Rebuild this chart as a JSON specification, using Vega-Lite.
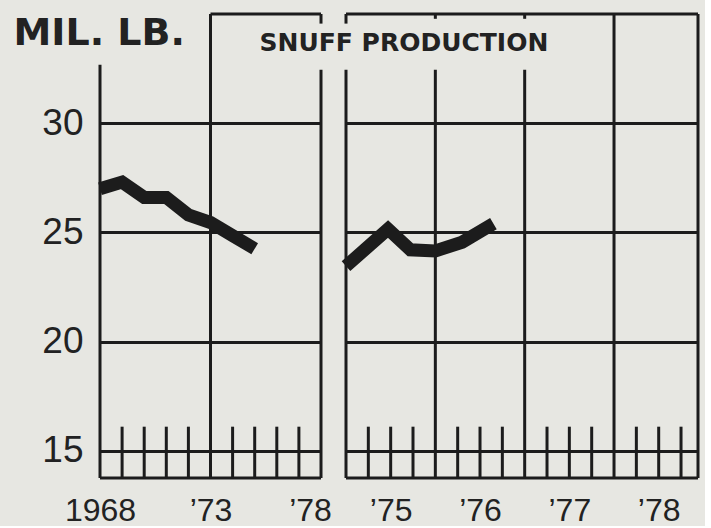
{
  "$schema": "https://vega.github.io/schema/vega-lite/v6.json",
  "background": "#e7e7e2",
  "padding": {"left": 13, "top": 12, "right": 5, "bottom": 0},
  "config": {"view": {"stroke": null}},
  "bounds": "flush",
  "spacing": 25,
  "datasets": {
    "annual": [
      {"year": 1968, "lb": 27.0},
      {"year": 1969, "lb": 27.3},
      {"year": 1970, "lb": 26.6},
      {"year": 1971, "lb": 26.6},
      {"year": 1972, "lb": 25.8},
      {"year": 1973, "lb": 25.45},
      {"year": 1974, "lb": 24.85},
      {"year": 1975, "lb": 24.25}
    ],
    "quarterly": [
      {"year": 1975.0, "lb": 23.45},
      {"year": 1975.47, "lb": 25.15},
      {"year": 1975.72, "lb": 24.2},
      {"year": 1976.0, "lb": 24.15},
      {"year": 1976.3, "lb": 24.55},
      {"year": 1976.65, "lb": 25.4}
    ],
    "frameLeft": [
      {"x": 1968, "x2": 1968, "y": 32.68, "y2": 13.75},
      {"x": 1973, "x2": 1973, "y": 35, "y2": 13.75},
      {"x": 1978, "x2": 1978, "y": 35, "y2": 34.56},
      {"x": 1978, "x2": 1978, "y": 32.45, "y2": 13.75},
      {"x": 1973, "x2": 1978, "y": 35, "y2": 35},
      {"x": 1968, "x2": 1978, "y": 13.75, "y2": 13.75},
      {"x": 1969, "x2": 1969, "y": 16.1, "y2": 13.75},
      {"x": 1970, "x2": 1970, "y": 16.1, "y2": 13.75},
      {"x": 1971, "x2": 1971, "y": 16.1, "y2": 13.75},
      {"x": 1972, "x2": 1972, "y": 16.1, "y2": 13.75},
      {"x": 1974, "x2": 1974, "y": 16.1, "y2": 13.75},
      {"x": 1975, "x2": 1975, "y": 16.1, "y2": 13.75},
      {"x": 1976, "x2": 1976, "y": 16.1, "y2": 13.75},
      {"x": 1977, "x2": 1977, "y": 16.1, "y2": 13.75}
    ],
    "frameRight": [
      {"x": 1975, "x2": 1975, "y": 35, "y2": 34.56},
      {"x": 1975, "x2": 1975, "y": 32.45, "y2": 13.75},
      {"x": 1976, "x2": 1976, "y": 35, "y2": 34.78},
      {"x": 1976, "x2": 1976, "y": 32.45, "y2": 13.75},
      {"x": 1977, "x2": 1977, "y": 35, "y2": 34.78},
      {"x": 1977, "x2": 1977, "y": 32.45, "y2": 13.75},
      {"x": 1978, "x2": 1978, "y": 35, "y2": 13.75},
      {"x": 1978.94, "x2": 1978.94, "y": 35, "y2": 13.75},
      {"x": 1975, "x2": 1978.94, "y": 35, "y2": 35},
      {"x": 1975, "x2": 1978.94, "y": 13.75, "y2": 13.75},
      {"x": 1975.25, "x2": 1975.25, "y": 16.1, "y2": 13.75},
      {"x": 1975.5, "x2": 1975.5, "y": 16.1, "y2": 13.75},
      {"x": 1975.75, "x2": 1975.75, "y": 16.1, "y2": 13.75},
      {"x": 1976.25, "x2": 1976.25, "y": 16.1, "y2": 13.75},
      {"x": 1976.5, "x2": 1976.5, "y": 16.1, "y2": 13.75},
      {"x": 1976.75, "x2": 1976.75, "y": 16.1, "y2": 13.75},
      {"x": 1977.25, "x2": 1977.25, "y": 16.1, "y2": 13.75},
      {"x": 1977.5, "x2": 1977.5, "y": 16.1, "y2": 13.75},
      {"x": 1977.75, "x2": 1977.75, "y": 16.1, "y2": 13.75},
      {"x": 1978.25, "x2": 1978.25, "y": 16.1, "y2": 13.75},
      {"x": 1978.5, "x2": 1978.5, "y": 16.1, "y2": 13.75},
      {"x": 1978.75, "x2": 1978.75, "y": 16.1, "y2": 13.75}
    ]
  },
  "hconcat": [
    {
      "width": 221,
      "height": 464,
      "layer": [
        {
          "data": {"name": "frameLeft"},
          "mark": {"type": "rule", "color": "#1c1c1c", "strokeWidth": 3},
          "encoding": {
            "x": {
              "field": "x", "type": "quantitative",
              "scale": {"domain": [1968, 1978], "nice": false, "zero": false},
              "axis": {
                "values": [1968, 1973, 1978], "format": "d",
                "labelExpr": "datum.value == 1968 ? '1968' : '’' + slice(datum.label, 2)",
                "grid": false, "domain": false, "ticks": false, "tickSize": 0,
                "labelFont": "Liberation Sans", "labelFontSize": 32, "labelColor": "#222222",
                "labelPadding": 42, "labelBaseline": "alphabetic", "labelAngle": 0,
                "labelOverlap": false, "labelFlush": false,
                "labelOffset": {"condition": {"test": "datum.value == 1978", "value": -11}, "value": 0},
                "title": "SNUFF PRODUCTION", "titleFont": "DejaVu Sans", "titleFontSize": 25,
                "titleFontWeight": "bold", "titleColor": "#222222", "titleAlign": "left",
                "titleBaseline": "alphabetic", "titleAngle": 0, "titleX": 159, "titleY": -428
              }
            },
            "x2": {"field": "x2"},
            "y": {
              "field": "y", "type": "quantitative",
              "scale": {"domain": [13.75, 35], "nice": false, "zero": false},
              "axis": {
                "values": [15, 20, 25, 30],
                "grid": true, "gridColor": "#1c1c1c", "gridWidth": 3, "gridOpacity": 1,
                "domain": false, "ticks": false, "tickSize": 0,
                "labelFont": "Liberation Sans", "labelFontSize": 37, "labelColor": "#222222",
                "labelPadding": 17,
                "title": "MIL. LB.", "titleAngle": 0, "titleFont": "DejaVu Sans", "titleFontSize": 38,
                "titleFontWeight": "bold", "titleColor": "#222222", "titleAlign": "left",
                "titleBaseline": "alphabetic", "titleX": -87, "titleY": 30
              }
            },
            "y2": {"field": "y2"}
          }
        },
        {
          "data": {"name": "annual"},
          "mark": {"type": "line", "color": "#1c1c1c", "strokeWidth": 13, "strokeJoin": "miter", "strokeCap": "butt"},
          "encoding": {
            "x": {"field": "year", "type": "quantitative"},
            "y": {"field": "lb", "type": "quantitative"}
          }
        }
      ]
    },
    {
      "width": 352,
      "height": 464,
      "layer": [
        {
          "data": {"name": "frameRight"},
          "mark": {"type": "rule", "color": "#1c1c1c", "strokeWidth": 3},
          "encoding": {
            "x": {
              "field": "x", "type": "quantitative",
              "scale": {"domain": [1975, 1978.94], "nice": false, "zero": false},
              "axis": {
                "values": [1975.5, 1976.5, 1977.5, 1978.5],
                "labelExpr": "'’' + slice(toString(floor(datum.value)), 2)",
                "grid": false, "domain": false, "ticks": false, "tickSize": 0,
                "labelFont": "Liberation Sans", "labelFontSize": 32, "labelColor": "#222222",
                "labelPadding": 42, "labelBaseline": "alphabetic", "labelAngle": 0,
                "labelOverlap": false, "labelFlush": false,
                "title": null
              }
            },
            "x2": {"field": "x2"},
            "y": {
              "field": "y", "type": "quantitative",
              "scale": {"domain": [13.75, 35], "nice": false, "zero": false},
              "axis": {
                "values": [15, 20, 25, 30],
                "grid": true, "gridColor": "#1c1c1c", "gridWidth": 3, "gridOpacity": 1,
                "domain": false, "ticks": false, "tickSize": 0, "labels": false,
                "title": null
              }
            },
            "y2": {"field": "y2"}
          }
        },
        {
          "data": {"name": "quarterly"},
          "mark": {"type": "line", "color": "#1c1c1c", "strokeWidth": 13, "strokeJoin": "miter", "strokeCap": "butt"},
          "encoding": {
            "x": {"field": "year", "type": "quantitative"},
            "y": {"field": "lb", "type": "quantitative"}
          }
        }
      ]
    }
  ]
}
